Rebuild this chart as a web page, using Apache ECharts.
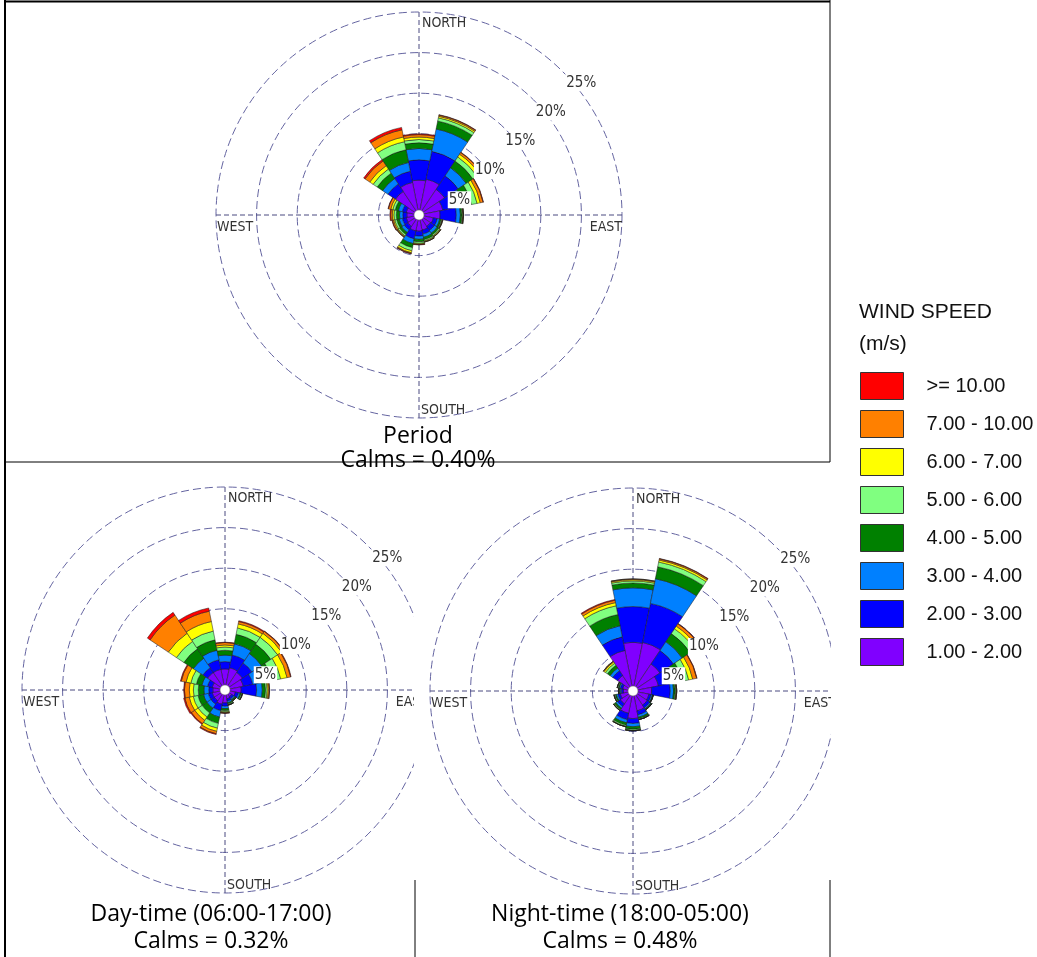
<!DOCTYPE html>
<html>
<head>
<meta charset="utf-8">
<script src="https://cdn.jsdelivr.net/npm/echarts@6/dist/echarts.min.js"></script>
<style>
  html, body { margin: 0; padding: 0; background: #fff; }
  #rose { width: 1037px; height: 957px; }
</style>
</head>
<body>
<div id="rose"></div>
<script>
// wind directions, clockwise from north
const dirs = ['N', 'NNE', 'NE', 'ENE', 'E', 'ESE', 'SE', 'SSE', 'S', 'SSW', 'SW', 'WSW', 'W', 'WNW', 'NW', 'NNW']
const speedClasses = ['1.00 - 2.00', '2.00 - 3.00', '3.00 - 4.00', '4.00 - 5.00', '5.00 - 6.00', '6.00 - 7.00', '7.00 - 10.00', '>= 10.00']
const speedColors = ['#8000ff', '#0000ff', '#0080ff', '#008000', '#80ff80', '#ffff00', '#ff8000', '#ff0000']
const ringTicks = [5, 10, 15, 20, 25]

// Period - frequency (%) per speed class
const period1 = [4.3, 4.5, 3.8, 3.0, 2.6, 1.8, 1.7, 1.9, 2.0, 2.0, 1.7, 1.6, 1.5, 1.6, 3.5, 4.1]
const period2 = [2.5, 3.5, 2.0, 1.6, 2.0, 0.5, 0.6, 0.5, 0.6, 1.0, 0.5, 0.5, 0.5, 0.5, 1.1, 1.4]
const period3 = [1.4, 2.8, 1.2, 1.0, 0.5, 0.3, 0.4, 0.4, 0.4, 0.6, 0.4, 0.4, 0.4, 0.5, 0.8, 1.1]
const period4 = [0.7, 1.0, 1.0, 1.0, 0.2, 0.2, 0.25, 0.3, 0.3, 0.5, 0.3, 0.3, 0.4, 0.4, 0.8, 1.6]
const period5 = [0.4, 0.4, 0.6, 0.7, 0.1, 0.1, 0.15, 0.15, 0.2, 0.4, 0.2, 0.25, 0.3, 0.3, 0.6, 1.0]
const period6 = [0.3, 0.2, 0.4, 0.4, 0.05, 0.05, 0.1, 0.1, 0.1, 0.25, 0.1, 0.15, 0.2, 0.25, 0.5, 0.6]
const period7 = [0.3, 0.15, 0.25, 0.35, 0.05, 0.05, 0.05, 0.05, 0.05, 0.1, 0.1, 0.15, 0.2, 0.3, 0.7, 0.9]
const period8 = [0.1, 0.05, 0.05, 0.05, 0, 0, 0, 0, 0.05, 0.05, 0, 0.05, 0.1, 0.05, 0.2, 0.3]

// Day-time (06:00-17:00)
const day1 = [2.6, 2.8, 2.6, 2.3, 2.0, 1.3, 1.0, 1.1, 1.6, 1.8, 1.6, 1.6, 1.5, 1.6, 2.6, 2.6]
const day2 = [0.9, 1.6, 1.4, 1.2, 1.9, 0.4, 0.3, 0.3, 0.4, 0.8, 0.5, 0.5, 0.5, 0.6, 0.7, 1.2]
const day3 = [0.8, 1.4, 1.4, 1.1, 0.7, 0.2, 0.15, 0.2, 0.3, 0.8, 0.6, 0.6, 0.6, 0.7, 1.4, 1.2]
const day4 = [0.6, 1.2, 1.4, 1.3, 0.4, 0.15, 0.1, 0.15, 0.25, 0.8, 0.7, 0.7, 0.7, 0.7, 1.4, 1.3]
const day5 = [0.4, 0.8, 1.0, 1.1, 0.2, 0.1, 0.05, 0.1, 0.15, 0.6, 0.6, 0.6, 0.6, 0.7, 1.1, 1.1]
const day6 = [0.25, 0.5, 0.6, 0.8, 0.15, 0.05, 0.05, 0.05, 0.1, 0.4, 0.5, 0.5, 0.5, 0.6, 1.2, 1.2]
const day7 = [0.3, 0.3, 0.3, 0.45, 0.15, 0, 0, 0, 0.05, 0.3, 0.5, 0.55, 0.6, 0.6, 2.7, 1.3]
const day8 = [0.05, 0.1, 0.05, 0.05, 0, 0, 0, 0, 0.05, 0.1, 0.1, 0.15, 0.1, 0.1, 0.4, 0.4]

// Night-time (18:00-05:00)
const night1 = [6.0, 6.1, 4.0, 3.2, 2.3, 2.0, 2.1, 2.5, 3.4, 2.8, 1.9, 1.6, 1.2, 1.3, 2.3, 5.1]
const night2 = [4.4, 4.9, 2.0, 1.2, 2.3, 0.3, 0.4, 0.5, 0.6, 0.8, 0.4, 0.3, 0.25, 0.3, 0.7, 1.7]
const night3 = [2.3, 3.1, 1.3, 0.9, 0.4, 0.15, 0.15, 0.3, 0.4, 0.4, 0.25, 0.2, 0.15, 0.15, 0.4, 1.4]
const night4 = [0.6, 1.5, 1.2, 0.9, 0.2, 0.05, 0.1, 0.2, 0.3, 0.3, 0.2, 0.15, 0.1, 0.1, 0.4, 1.4]
const night5 = [0.25, 0.6, 0.7, 0.8, 0.1, 0.05, 0.05, 0.1, 0.15, 0.15, 0.1, 0.1, 0.05, 0.1, 0.3, 1.1]
const night6 = [0.15, 0.25, 0.4, 0.5, 0.05, 0, 0, 0, 0.05, 0.05, 0.05, 0.05, 0.05, 0.05, 0.2, 0.4]
const night7 = [0.1, 0.15, 0.35, 0.5, 0.05, 0, 0, 0, 0, 0, 0, 0, 0, 0, 0.1, 0.3]
const night8 = [0, 0.05, 0.05, 0.05, 0, 0, 0, 0, 0, 0, 0, 0, 0, 0, 0, 0.1]

const roses = [
  { label: 'Period\nCalms = 0.40%', center: [419, 215], titleX: 418, titleY: 424, lineH: 24, data: [period1, period2, period3, period4, period5, period6, period7, period8] },
  { label: 'Day-time (06:00-17:00)\nCalms = 0.32%', center: [225, 690], titleX: 211, titleY: 901, lineH: 27, data: [day1, day2, day3, day4, day5, day6, day7, day8] },
  { label: 'Night-time (18:00-05:00)\nCalms = 0.48%', center: [633, 691], titleX: 620, titleY: 901, lineH: 27, data: [night1, night2, night3, night4, night5, night6, night7, night8] }
]

const R = 203
const maxPct = 25
const ringColor = '#6464a0'
const smallFont = "'Liberation Sans Narrow', 'DejaVu Sans Condensed', 'Liberation Sans', sans-serif"
const titleFont = "'Open Sans', 'Noto Sans', sans-serif"

const chart = echarts.init(document.getElementById('rose'))

const polar = []
const angleAxis = []
const radiusAxis = []
const series = []
const graphic = []

roses.forEach((rose, i) => {
  // bars
  polar.push({ center: rose.center, radius: [0, R] })
  angleAxis.push({
    polarIndex: i, type: 'category', data: dirs, startAngle: 90 + 11.25, clockwise: true,
    axisLine: { show: false }, axisTick: { show: false }, axisLabel: { show: false }, splitLine: { show: false }
  })
  radiusAxis.push({
    polarIndex: i, type: 'value', min: 0, max: maxPct, interval: 5,
    axisLine: { show: false }, axisTick: { show: false }, axisLabel: { show: false },
    splitLine: { show: true, lineStyle: { color: ringColor, width: 1, type: [8, 4] } }
  })
  rose.data.forEach((vals, k) => {
    series.push({
      name: speedClasses[k], type: 'bar', coordinateSystem: 'polar', polarIndex: i,
      stack: 'rose' + i, data: vals, barCategoryGap: '0%', silent: true,
      itemStyle: { color: speedColors[k], borderColor: '#1a1a1a', borderWidth: 0.5 }
    })
  })
})

roses.forEach((rose, i) => {
  // N-S / E-W cross lines
  polar.push({ center: rose.center, radius: [0, R] })
  angleAxis.push({
    polarIndex: 3 + i, type: 'value', min: 0, max: 360, interval: 90, startAngle: 90,
    axisLine: { show: false }, axisTick: { show: false }, axisLabel: { show: false },
    splitLine: { show: true, lineStyle: { color: '#4a4a80', width: 1, type: [5, 3] } }
  })
  radiusAxis.push({
    polarIndex: 3 + i, type: 'value', min: 0, max: maxPct,
    axisLine: { show: false }, axisTick: { show: false }, axisLabel: { show: false }, splitLine: { show: false }
  })

  const [cx, cy] = rose.center
  const compass = [
    { text: 'NORTH', x: cx + 3, y: cy - 192, align: 'left' },
    { text: 'SOUTH', x: cx + 2, y: cy + 195, align: 'left' },
    { text: 'WEST', x: cx - 202, y: cy + 12, align: 'left' },
    { text: 'EAST', x: cx + 203, y: cy + 12, align: 'right' }
  ]
  compass.forEach(c => {
    graphic.push({
      type: 'text', x: c.x, y: c.y, z: 50,
      style: { text: c.text, fill: '#333', font: '14px ' + smallFont, align: c.align, verticalAlign: 'middle' }
    })
  })
  ringTicks.forEach(v => {
    const r = v / maxPct * R
    graphic.push({
      type: 'text', x: cx + 10 + r * 0.75, y: cy + 14 - r * 0.72, z: 50,
      style: {
        text: v + '%', fill: '#333', font: '15px ' + smallFont, align: 'center', verticalAlign: 'middle',
        backgroundColor: '#fff', padding: [1, 1]
      }
    })
  })
  // calm circle
  graphic.push({
    type: 'circle', shape: { cx: cx, cy: cy, r: 5 }, z: 60,
    style: { fill: '#fff', stroke: '#777', lineWidth: 0.6 }
  })
  graphic.push({
    type: 'text', x: rose.titleX, y: rose.titleY, z: 50,
    style: { text: rose.label, fill: '#000', font: '23px ' + titleFont, align: 'center', verticalAlign: 'top', lineHeight: rose.lineH }
  })
})

// legend heading
graphic.push({ type: 'text', x: 859, y: 312, z: 50, style: { text: 'WIND SPEED', fill: '#111', font: '21px Liberation Sans', verticalAlign: 'middle' } })
graphic.push({ type: 'text', x: 859, y: 344, z: 50, style: { text: '(m/s)', fill: '#111', font: '21px Liberation Sans', verticalAlign: 'middle' } })

// clip the lower roses at the panel edges
graphic.push({ type: 'rect', shape: { x: 414, y: 470, width: 15, height: 420 }, z: 90, style: { fill: '#fff' } })
graphic.push({ type: 'rect', shape: { x: 831, y: 470, width: 14, height: 420 }, z: 90, style: { fill: '#fff' } })

// panel frames
const frame = [
  [5, 1.5, 830, 1.5, 2], [5, 0, 5, 957, 2], [830, 0, 830, 462, 1], [5, 462, 830, 462, 1],
  [415, 880, 415, 957, 1], [830, 880, 830, 957, 1]
]
frame.forEach(f => {
  graphic.push({
    type: 'line', z: 95, shape: { x1: f[0], y1: f[1], x2: f[2], y2: f[3] },
    style: { stroke: '#000', lineWidth: f[4] }
  })
})

const option = {
  animation: false,
  polar: polar,
  angleAxis: angleAxis,
  radiusAxis: radiusAxis,
  legend: {
    data: speedClasses.slice().reverse(),
    orient: 'vertical', left: 860, top: 372, padding: 0,
    itemWidth: 43, itemHeight: 27, itemGap: 10, icon: 'rect', selectedMode: false,
    itemStyle: { borderColor: '#333', borderWidth: 1 },
    textStyle: { fontSize: 20, fontFamily: 'Liberation Sans', color: '#111', padding: [0, 0, 0, 18] }
  },
  series: series,
  graphic: { elements: graphic }
}
chart.setOption(option)
</script>
</body>
</html>
